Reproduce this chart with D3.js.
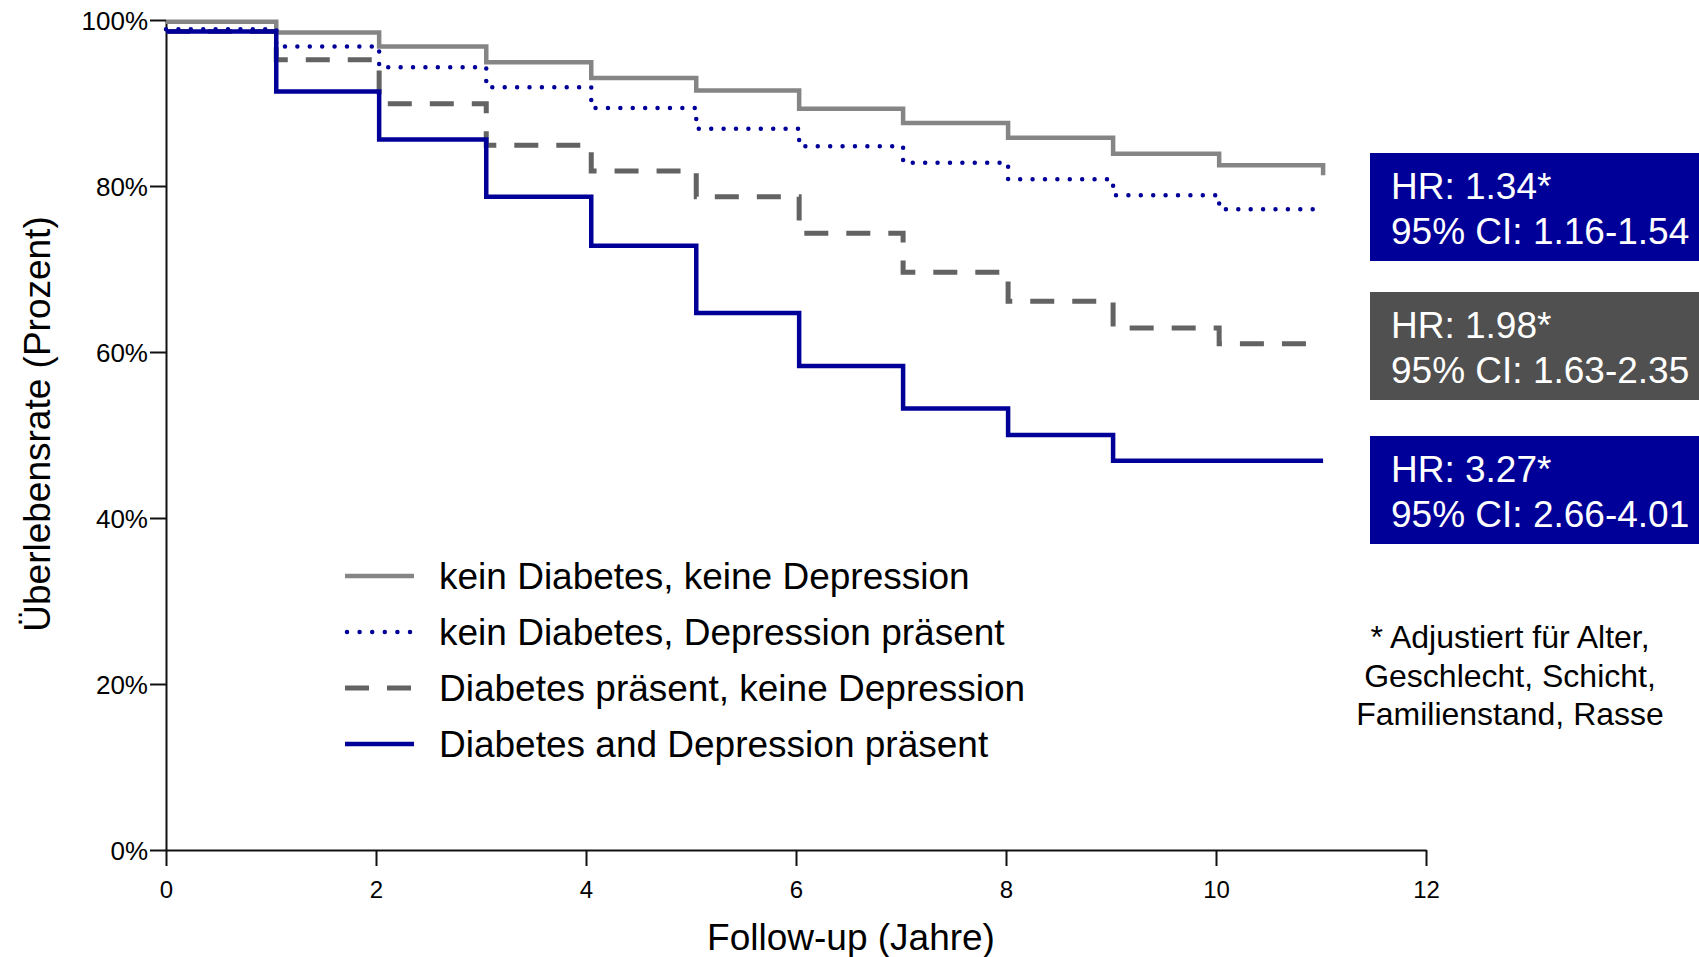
<!DOCTYPE html>
<html>
<head>
<meta charset="utf-8">
<script src="https://cdn.jsdelivr.net/npm/d3@7"></script>
<style>
  html, body { margin: 0; padding: 0; background: #fff; }
  svg { display: block; font-family: "Liberation Sans", Arial, Helvetica, sans-serif; }
</style>
</head>
<body>
<svg id="chart" width="1699" height="957"></svg>
<script>
// Follow-up times (years) at which survival estimates change
const years = [0, 1.05, 2.03, 3.05, 4.05, 5.05, 6.03, 7.02, 8.02, 9.02, 10.03, 11.02];

// Survival (%) per group, value holds from each time until the next
const keinKeine      = [99.8, 98.5, 96.8, 94.9, 93.0, 91.5, 89.3, 87.6, 85.8, 83.9, 82.5, 81.3];
const keinDepression = [98.9, 96.8, 94.3, 91.9, 89.4, 86.9, 84.8, 82.8, 80.8, 78.9, 77.2, 77.2];
const diabetesKeine  = [98.6, 95.2, 89.9, 84.9, 81.8, 78.7, 74.3, 69.6, 66.1, 62.9, 61.0, 61.0];
const beide          = [98.6, 91.4, 85.6, 78.7, 72.8, 64.7, 58.3, 53.2, 50.0, 46.9, 46.9, 46.9];

const seriesNames = [
  "kein Diabetes, keine Depression",
  "kein Diabetes, Depression präsent",
  "Diabetes präsent, keine Depression",
  "Diabetes and Depression präsent"
];

const xTicks = [0, 2, 4, 6, 8, 10, 12];
const yTicks = [0, 20, 40, 60, 80, 100];

const hrLines = [
  ["HR: 1.34*", "95% CI: 1.16-1.54"],
  ["HR: 1.98*", "95% CI: 1.63-2.35"],
  ["HR: 3.27*", "95% CI: 2.66-4.01"]
];

const footnote = ["* Adjustiert für Alter,", "Geschlecht, Schicht,", "Familienstand, Rasse"];

// ---- styles ----
const styles = [
  { color: "#858585", width: 4.5, dash: null, cap: "butt" },
  { color: "#000099", width: 4.5, dash: "0 12.4", cap: "round" },
  { color: "#636363", width: 5,   dash: "24 18", cap: "butt" },
  { color: "#000099", width: 4.5, dash: null, cap: "butt" }
];
const boxColors = ["#000099", "#505050", "#000099"];

const svg = d3.select("#chart");

const x = d3.scaleLinear().domain([0, 12]).range([166, 1426]);
const y = d3.scaleLinear().domain([0, 100]).range([850, 20]);

// ---- axes ----
const yAxis = d3.axisLeft(y)
  .tickValues(yTicks)
  .tickFormat(d => d + "%")
  .tickSize(16)
  .tickSizeOuter(0)
  .tickPadding(2);

const xAxis = d3.axisBottom(x)
  .tickValues(xTicks)
  .tickFormat(d3.format("d"))
  .tickSize(16)
  .tickSizeOuter(0)
  .tickPadding(15);

const gy = svg.append("g").attr("transform", `translate(${x(0)},0)`).call(yAxis);
const gx = svg.append("g").attr("transform", `translate(0,${y(0)})`).call(xAxis);

[gx, gy].forEach(g => {
  g.select(".domain").attr("stroke", "#111").attr("stroke-width", 2);
  g.selectAll(".tick line").attr("stroke", "#111").attr("stroke-width", 2);
  g.selectAll(".tick text")
    .attr("fill", "#000")
    .style("font-family", '"Liberation Sans", Arial, sans-serif')
    .style("font-size", "24px");
});
gy.selectAll(".tick text").style("font-size", "26px").attr("dy", "0.36em");

// Axis titles
svg.append("text")
  .attr("x", 851).attr("y", 950)
  .attr("text-anchor", "middle")
  .style("font-size", "37px")
  .text("Follow-up (Jahre)");

svg.append("text")
  .attr("transform", "translate(50,424) rotate(-90)")
  .attr("text-anchor", "middle")
  .style("font-size", "37px")
  .text("Überlebensrate (Prozent)");

// ---- survival curves ----
const allSeries = [keinKeine, keinDepression, diabetesKeine, beide];
const line = d3.line()
  .x(d => x(d[0]))
  .y(d => y(d[1]))
  .curve(d3.curveStepAfter);

const drawOrder = [0, 2, 3, 1];
drawOrder.forEach(i => {
  const pts = years.map((t, k) => [t, allSeries[i][k]]);
  const st = styles[i];
  svg.append("path")
    .datum(pts)
    .attr("d", line)
    .attr("fill", "none")
    .attr("stroke", st.color)
    .attr("stroke-width", st.width)
    .attr("stroke-linecap", st.cap)
    .attr("stroke-linejoin", "miter")
    .attr("stroke-dasharray", st.dash);
});

// ---- legend ----
const legend = svg.append("g");
seriesNames.forEach((name, i) => {
  const cy = 576 + i * 56;
  const st = styles[i];
  legend.append("line")
    .attr("x1", i === 1 ? 347 : 345).attr("x2", 414)
    .attr("y1", cy).attr("y2", cy)
    .attr("stroke", st.color)
    .attr("stroke-width", st.width)
    .attr("stroke-linecap", st.cap)
    .attr("stroke-dasharray", i === 1 ? "0 12.6" : st.dash);
  legend.append("text")
    .attr("x", 439).attr("y", cy + 13)
    .style("font-size", "37px")
    .attr("fill", "#000")
    .text(name);
});

// ---- hazard ratio boxes ----
const boxTops = [153, 292, 436];
hrLines.forEach((lines, i) => {
  const g = svg.append("g").attr("transform", `translate(1370,${boxTops[i]})`);
  g.append("rect")
    .attr("width", 329).attr("height", 108)
    .attr("fill", boxColors[i]);
  lines.forEach((t, k) => {
    g.append("text")
      .attr("x", 21).attr("y", 46 + k * 45)
      .attr("fill", "#fff")
      .style("font-size", "37px")
      .text(t);
  });
});

// ---- footnote ----
footnote.forEach((t, k) => {
  svg.append("text")
    .attr("x", 1510).attr("y", 648 + k * 38.5)
    .attr("text-anchor", "middle")
    .style("font-size", "32px")
    .attr("fill", "#000")
    .text(t);
});
</script>
</body>
</html>
